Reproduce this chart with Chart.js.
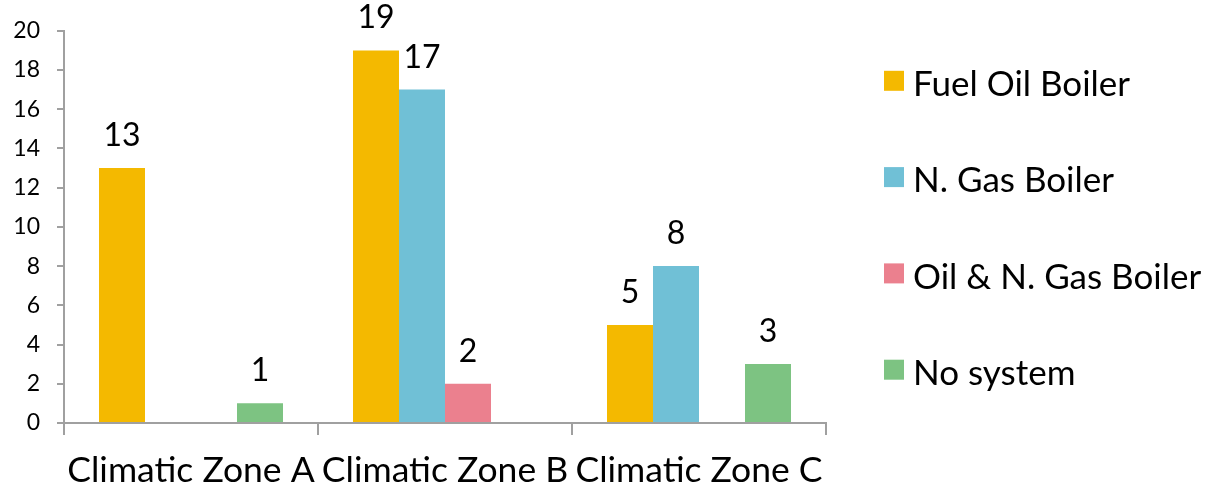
<!DOCTYPE html>
<html lang="en">
<head>
<meta charset="utf-8">
<title>Heating systems by climatic zone</title>
<script src="https://cdn.jsdelivr.net/npm/chart.js@4.4.1/dist/chart.umd.min.js"></script>
<style>
  html, body { margin: 0; padding: 0; background: #fff; }
  .chart__body { position: relative; width: 1208px; height: 488px; }
</style>
</head>
<body>
<div class="chart__body">
  <canvas id="myChart"></canvas>
</div>
<script>
// Categories
const zones = ["Climatic Zone A", "Climatic Zone B", "Climatic Zone C"];

// Series values (null = no bar)
const fuelOil = [13, 19, 5];
const gasBoiler = [null, 17, 8];
const oilAndGas = [null, 2, null];
const noSystem = [1, null, 3];

// Y axis tick range
const yMin = 0;
const yMax = 20;
const yStep = 2;

const FONT = "Lato, 'Open Sans', sans-serif";
const axisGray = "#a0a0a0";

// Values printed above each bar
const valueLabels = {
  id: "valueLabels",
  afterDatasetsDraw(chart) {
    const ctx = chart.ctx;
    ctx.save();
    ctx.font = "32px " + FONT;
    ctx.fillStyle = "#000";
    ctx.textAlign = "center";
    ctx.textBaseline = "alphabetic";
    chart.data.datasets.forEach((ds, i) => {
      chart.getDatasetMeta(i).data.forEach((bar, j) => {
        const v = ds.data[j];
        if (v == null) return;
        ctx.fillText(String(v), bar.x, bar.y - 22);
      });
    });
    ctx.restore();
  },
};

// Legend on the right: square swatch + label
const sideLegend = {
  id: "sideLegend",
  afterDraw(chart) {
    const { ctx, chartArea } = chart;
    const x = chartArea.right + 58;
    ctx.save();
    ctx.font = "35px " + FONT;
    ctx.textAlign = "left";
    ctx.textBaseline = "middle";
    chart.data.datasets.forEach((ds, i) => {
      const y = chartArea.top + 50 + i * 96.3;
      ctx.fillStyle = ds.backgroundColor;
      ctx.fillRect(x, y - 10, 20, 20);
      ctx.fillStyle = "#000";
      ctx.fillText(ds.label, x + 29, y + 4);
    });
    ctx.restore();
  },
};

const data = {
  labels: zones,
  datasets: [
    { label: "Fuel Oil Boiler", data: fuelOil, backgroundColor: "#f4b900" },
    { label: "N. Gas Boiler", data: gasBoiler, backgroundColor: "#70c0d6" },
    { label: "Oil & N. Gas Boiler", data: oilAndGas, backgroundColor: "#eb808e" },
    { label: "No system", data: noSystem, backgroundColor: "#7dc382" },
  ],
};

const config = {
  type: "bar",
  data,
  options: {
    responsive: true,
    maintainAspectRatio: false,
    animation: false,
    datasets: {
      bar: {
        categoryPercentage: 0.7244,
        barPercentage: 1,
        borderWidth: 0,
      },
    },
    layout: {
      padding: { left: -2, right: 382, top: 27, bottom: -19 },
    },
    scales: {
      x: {
        // long zone names may touch each other, don't let them push the plot inward
        afterFit(scale) {
          scale.paddingLeft = 0;
          scale.paddingRight = 0;
        },
        grid: {
          offset: true,
          drawOnChartArea: false,
          drawTicks: true,
          tickLength: 12,
          lineWidth: 2,
          color: axisGray,
        },
        border: { color: axisGray, width: 2 },
        ticks: {
          color: "#000",
          font: { family: FONT, size: 35.5, lineHeight: 2.03 },
          padding: 0,
          maxRotation: 0,
          autoSkip: false,
        },
      },
      y: {
        min: yMin,
        max: yMax,
        // fixed axis width so the plot starts at the same place whatever the label size
        afterFit(scale) {
          scale.width = 66;
        },
        grid: {
          drawOnChartArea: false,
          drawTicks: true,
          tickLength: 7,
          lineWidth: 2,
          color: axisGray,
        },
        border: { color: axisGray, width: 2 },
        ticks: {
          stepSize: yStep,
          color: "#000",
          font: { family: FONT, size: 23 },
          padding: 17,
        },
      },
    },
    plugins: {
      legend: { display: false },
      tooltip: { enabled: false },
    },
  },
  plugins: [valueLabels, sideLegend],
};

const myChart = new Chart(document.getElementById("myChart"), config);
</script>
</body>
</html>
